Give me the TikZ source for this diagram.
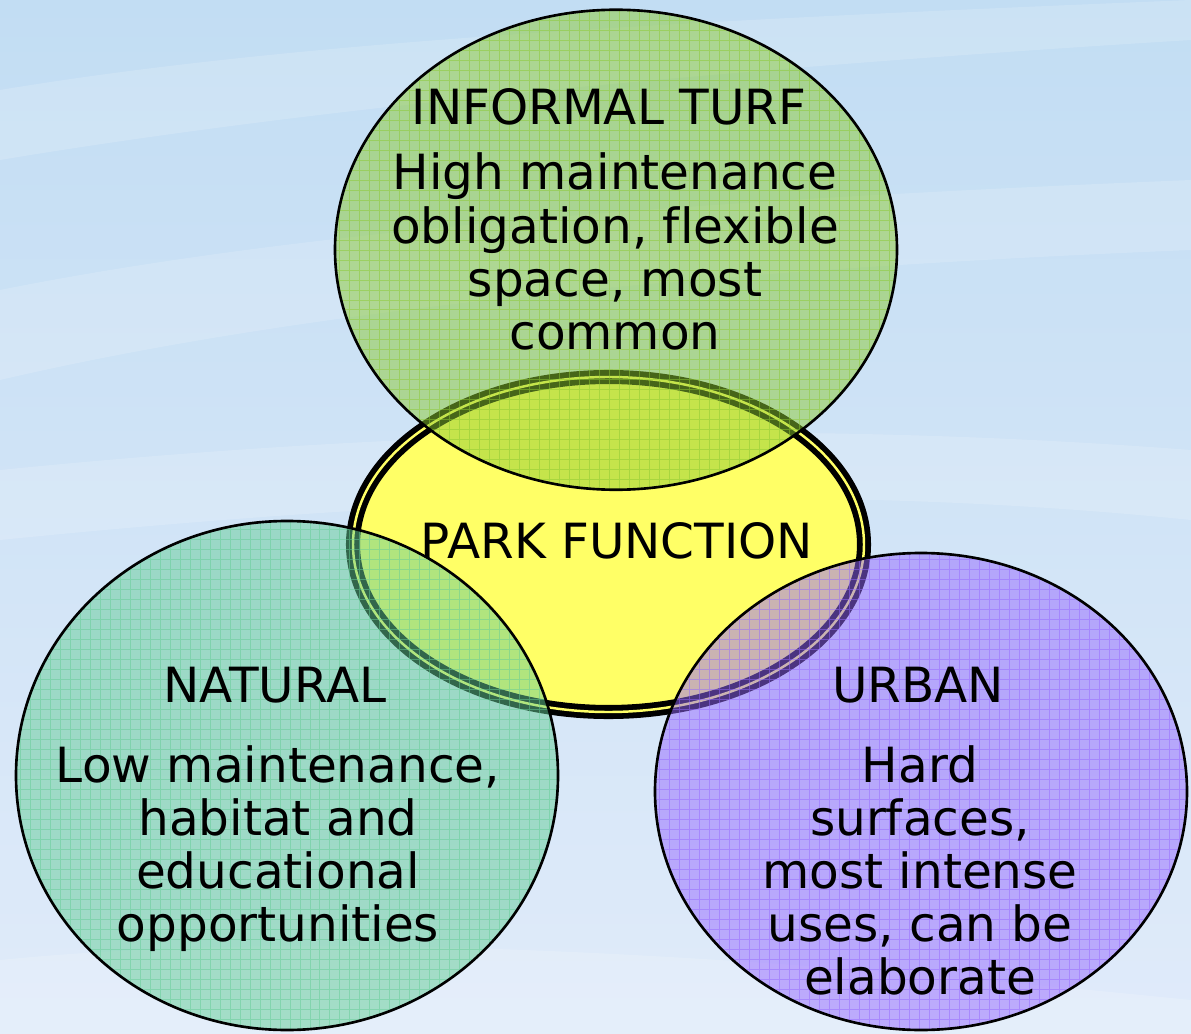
\documentclass[tikz,border=0pt]{standalone}
\usepackage{fontspec}
\setmainfont{DejaVu Sans}[Ligatures=NoCommon]
\definecolor{skytop}{RGB}{194,221,243}
\definecolor{skybottom}{RGB}{224,235,250}
\definecolor{parkyellow}{RGB}{255,255,102}
\definecolor{turfgreen}{RGB}{140,202,50}
\definecolor{naturalteal}{RGB}{100,205,150}
\definecolor{urbanviolet}{RGB}{150,105,255}
\tikzset{
  venn text/.style={anchor=base,inner sep=0pt,
    font=\fontsize{27.6pt}{30pt}\selectfont},
  venn rim/.style={draw=black,line width=1.5pt},
  venn grid/.style={line width=0.5pt,opacity=0.5,step=2mm},
  park shape/.style={insert path={(608.5,544.5) ellipse [x radius=255.5, y radius=167.5]}},
  turf shape/.style={insert path={(616,249.75) ellipse [x radius=281, y radius=240]}},
  natural shape/.style={insert path={(287,775.5) ellipse [x radius=271, y radius=254.5]}},
  urban shape/.style={insert path={(921,791.5) ellipse [x radius=266, y radius=238.5]}},
  wave/.style={fill=white,opacity=0.16}
}

\begin{document}
\begin{tikzpicture}[x=0.02cm,y=-0.02cm]
  \useasboundingbox (0,0) rectangle (1191,1034);
  % sky
  \shade[top color=skytop,bottom color=skybottom] (0,0) rectangle (1191,1034);
  \fill[wave] (0,90) .. controls (300,40) and (700,20) .. (1191,0)
    -- (1191,40) .. controls (700,70) and (300,110) .. (0,160) -- cycle;
  \fill[wave] (0,290) .. controls (300,230) and (700,200) .. (1191,180)
    -- (1191,250) .. controls (700,270) and (300,310) .. (0,380) -- cycle;
  \fill[wave] (0,470) .. controls (400,430) and (800,420) .. (1191,450)
    -- (1191,520) .. controls (800,480) and (400,500) .. (0,540) -- cycle;
  \fill[wave] (0,960) .. controls (300,930) and (700,950) .. (1191,1000)
    -- (1191,1034) -- (0,1034) -- cycle;
  % park function part
  \fill[parkyellow][park shape];
  \draw[line width=3.3pt,double=parkyellow,double distance=1.4pt][park shape];
  % informal turf part
  \begin{scope}
    \clip[turf shape];
    \fill[turfgreen,opacity=0.5] (0,0) rectangle (1191,1034);
    \draw[turfgreen,venn grid] (0,1034) grid (1191,0);
  \end{scope}
  \draw[venn rim][turf shape];
  % natural part
  \begin{scope}
    \clip[natural shape];
    \fill[naturalteal,opacity=0.5] (0,0) rectangle (1191,1034);
    \draw[naturalteal,venn grid] (0,1034) grid (1191,0);
  \end{scope}
  \draw[venn rim][natural shape];
  % urban part
  \begin{scope}
    \clip[urban shape];
    \fill[urbanviolet,opacity=0.5] (0,0) rectangle (1191,1034);
    \draw[urbanviolet,venn grid] (0,1034) grid (1191,0);
  \end{scope}
  \draw[venn rim][urban shape];
  % labels
  \node[venn text] (park) at (617,558) {PARK FUNCTION};
  \node[venn text] (turftitle) at (609,125) {INFORMAL TURF};
  \foreach \ln [count=\i from 0] in {High maintenance,{obligation, flexible},{space, most},common}
    \node[venn text] (turf-\i) at (615,{190+53.3*\i}) {\ln};
  \node[venn text] (naturaltitle) at (275,702) {NATURAL};
  \foreach \ln [count=\i from 0] in {{Low maintenance,},habitat and,educational,opportunities}
    \node[venn text] (natural-\i) at (278,{782+53*\i}) {\ln};
  \node[venn text] (urbantitle) at (918,702) {URBAN};
  \foreach \ln [count=\i from 0] in {Hard,{surfaces,},most intense,{uses, can be},elaborate}
    \node[venn text] (urban-\i) at (920,{782+53*\i}) {\ln};
\end{tikzpicture}
\end{document}
